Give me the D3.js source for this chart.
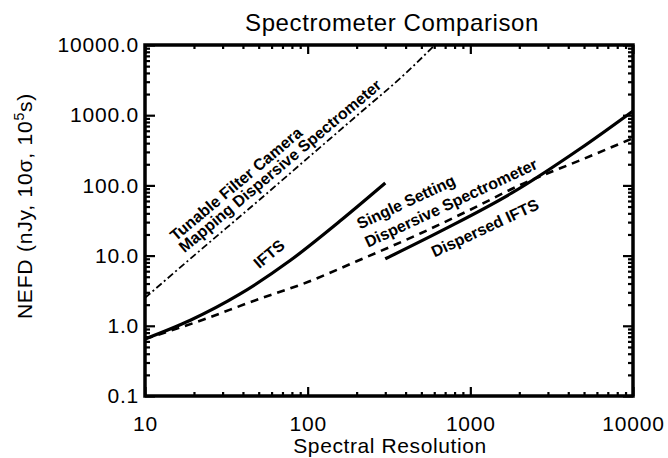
<!DOCTYPE html>
<html>
<head>
<meta charset="utf-8">
<script src="https://cdn.jsdelivr.net/npm/d3@7"></script>
<style>
  body { margin: 0; background: white; }
  text { font-family: "Liberation Sans", Arial, sans-serif; fill: black; }
</style>
</head>
<body>
<div id="vis"></div>
<script>
// values
let tunableR = [10, 20, 50, 100, 200, 400, 605];
let tunableV = [2.5, 10, 61, 245, 980, 3950, 10000];

let iftsR = [10, 19, 38, 78, 158, 300];
let iftsV = [0.65, 1.2, 2.8, 8.5, 31, 108];

let singleR = [10, 20, 50, 100, 200, 500, 1000, 2000, 5000, 10000];
let singleV = [0.65, 1.1, 2.4, 4.2, 8.3, 21, 45, 100, 240, 470];

let dispR = [300, 700, 1800, 4700, 10000];
let dispV = [9, 24, 78, 330, 1150];

let xTicks = [10, 100, 1000, 10000];
let yTicks = [0.1, 1, 10, 100, 1000, 10000];

let margin = { top: 45, left: 145, right: 35, bottom: 62 },
  width = 668 - margin.left - margin.right,
  height = 458 - margin.top - margin.bottom;

let svg = d3.select('#vis')
  .append('svg')
  .attr('width', 668)
  .attr('height', 458)
  .style('background-color', 'white');

let x = d3.scaleLog().domain([10, 10000]).range([margin.left, margin.left + width]);
let y = d3.scaleLog().domain([0.1, 10000]).range([margin.top + height, margin.top]);

// minor ticks 2..9 in each decade
function minors(lo, hi) {
  let out = [];
  for (let d = lo; d < hi; d *= 10)
    for (let k = 2; k <= 9; k++) out.push(d * k);
  return out;
}
let xMinor = minors(10, 10000);
let yMinor = minors(0.1, 10000);

svg.append('defs').append('clipPath').attr('id', 'plot')
  .append('rect')
  .attr('x', margin.left).attr('y', margin.top)
  .attr('width', width).attr('height', height);

// title
svg.append('text')
  .attr('x', 392).attr('y', 31)
  .attr('text-anchor', 'middle')
  .style('font-size', '24px')
  .style('letter-spacing', '0.6px')
  .text('Spectrometer Comparison');

function styleAxis(g) {
  g.select('.domain').remove();
  g.selectAll('.tick line').attr('stroke', 'black').attr('stroke-width', 2.2);
  g.selectAll('text')
    .style('font-size', '21px')
    .style('letter-spacing', '0.8px')
    .style('font-family', '"Liberation Sans", Arial, sans-serif');
}

// bottom
svg.append('g').attr('transform', `translate(0,${margin.top + height})`)
  .call(d3.axisBottom(x).tickValues(xTicks).tickSize(-9).tickPadding(20).tickFormat(d3.format('d')))
  .call(styleAxis);
svg.append('g').attr('transform', `translate(0,${margin.top + height})`)
  .call(d3.axisBottom(x).tickValues(xMinor).tickSize(-4).tickFormat(''))
  .call(styleAxis);
// top
svg.append('g').attr('transform', `translate(0,${margin.top})`)
  .call(d3.axisTop(x).tickValues(xTicks).tickSize(-9).tickFormat(''))
  .call(styleAxis);
svg.append('g').attr('transform', `translate(0,${margin.top})`)
  .call(d3.axisTop(x).tickValues(xMinor).tickSize(-4).tickFormat(''))
  .call(styleAxis);
// left
svg.append('g').attr('transform', `translate(${margin.left},0)`)
  .call(d3.axisLeft(y).tickValues(yTicks).tickSize(-10).tickPadding(6).tickFormat(d3.format('.1f')))
  .call(styleAxis);
svg.append('g').attr('transform', `translate(${margin.left},0)`)
  .call(d3.axisLeft(y).tickValues(yMinor).tickSize(-5).tickFormat(''))
  .call(styleAxis);
// right
svg.append('g').attr('transform', `translate(${margin.left + width},0)`)
  .call(d3.axisRight(y).tickValues(yTicks).tickSize(-10).tickFormat(''))
  .call(styleAxis);
svg.append('g').attr('transform', `translate(${margin.left + width},0)`)
  .call(d3.axisRight(y).tickValues(yMinor).tickSize(-5).tickFormat(''))
  .call(styleAxis);

// frame
svg.append('rect')
  .attr('x', margin.left).attr('y', margin.top)
  .attr('width', width).attr('height', height)
  .attr('fill', 'none').attr('stroke', 'black').attr('stroke-width', 3.5);

// axis titles
svg.append('text')
  .attr('x', 390).attr('y', 453)
  .attr('text-anchor', 'middle')
  .style('font-size', '21px')
  .style('letter-spacing', '0.6px')
  .text('Spectral Resolution');

let yl = svg.append('text')
  .attr('transform', 'translate(32,206) rotate(-90)')
  .attr('text-anchor', 'middle')
  .style('font-size', '21px')
  .style('letter-spacing', '0.8px');
yl.append('tspan').text('NEFD (nJy, 10\u03c3, 10');
yl.append('tspan').attr('baseline-shift', 'super').style('font-size', '14px').text('5');
yl.append('tspan').text('s)');

// curves
let line = d3.line().x(d => x(d[0])).y(d => y(d[1])).curve(d3.curveMonotoneX);
let plot = svg.append('g').attr('clip-path', 'url(#plot)');

plot.append('path')
  .datum(d3.zip(tunableR, tunableV))
  .attr('d', line)
  .attr('fill', 'none').attr('stroke', 'black')
  .attr('stroke-width', 1.8).attr('stroke-dasharray', '7,3,2,3');

plot.append('path')
  .datum(d3.zip(singleR, singleV))
  .attr('d', line)
  .attr('fill', 'none').attr('stroke', 'black')
  .attr('stroke-width', 2.6).attr('stroke-dasharray', '8,6');

plot.append('path')
  .datum(d3.zip(iftsR, iftsV))
  .attr('d', line)
  .attr('fill', 'none').attr('stroke', 'black').attr('stroke-width', 3.2);

plot.append('path')
  .datum(d3.zip(dispR, dispV))
  .attr('d', line)
  .attr('fill', 'none').attr('stroke', 'black').attr('stroke-width', 3.2);

// labels on the curves
let notes = [
  { t: 'Tunable Filter Camera', cx: 236, cy: 184, a: -40 },
  { t: 'Mapping Dispersive Spectrometer', cx: 280, cy: 166, a: -40 },
  { t: 'IFTS', cx: 269, cy: 254, a: -40 },
  { t: 'Single Setting', cx: 406, cy: 202, a: -25 },
  { t: 'Dispersive Spectrometer', cx: 451, cy: 203, a: -25 },
  { t: 'Dispersed IFTS', cx: 485, cy: 228, a: -25 }
];
svg.selectAll('.note').data(notes).enter().append('text')
  .attr('class', 'note')
  .attr('transform', d => `translate(${d.cx},${d.cy}) rotate(${d.a})`)
  .attr('text-anchor', 'middle')
  .attr('dominant-baseline', 'central')
  .style('font-size', '16px')
  .style('font-weight', 'bold')
  .text(d => d.t);
</script>
</body>
</html>
